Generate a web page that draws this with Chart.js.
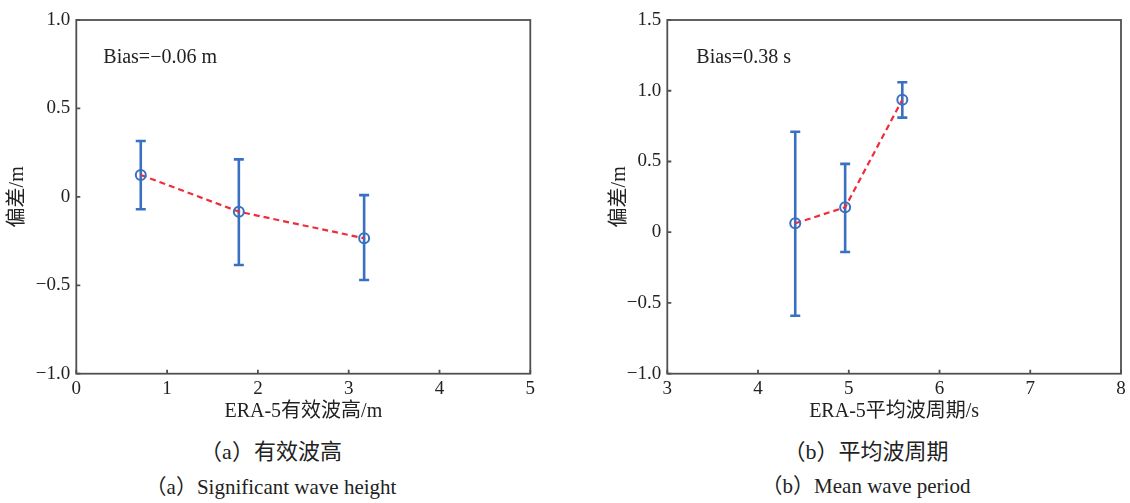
<!DOCTYPE html>
<html>
<head>
<meta charset="utf-8">
<script src="https://cdn.jsdelivr.net/npm/chart.js@4/dist/chart.umd.min.js"></script>
<style>
  html, body { margin: 0; padding: 0; background: #fff; }
  body { width: 1130px; height: 503px; position: relative; overflow: hidden; }
  canvas { position: absolute; top: 0; }
  #chartHs { left: 0; }
  #chartTm { left: 565px; }
  .caption {
    position: absolute; transform: translateX(-50%); white-space: nowrap;
    font-family: 'Liberation Serif', 'Noto Sans CJK SC', serif; color: #222;
    line-height: 26px;
  }
  .zh { font-size: 22px; }
  .en { font-size: 21px; }
</style>
</head>
<body>
<canvas id="chartHs" width="565" height="430"></canvas>
<canvas id="chartTm" width="565" height="430"></canvas>
<div class="caption zh" style="left:271px; top:439px;">（a）有效波高</div>
<div class="caption en" style="left:271px; top:474px;">（a）Significant wave height</div>
<div class="caption zh" style="left:866px; top:439px;">（b）平均波周期</div>
<div class="caption en" style="left:866px; top:473px;">（b）Mean wave period</div>
<script>
// (a) significant wave height: bin centres, mean bias and bias spread
const hsX = [0.71, 1.79, 3.17];
const hsBias = [0.124, -0.084, -0.234];
const hsUpper = [0.316, 0.212, 0.01];
const hsLower = [-0.07, -0.385, -0.47];
const hsXTicks = [0, 1, 2, 3, 4, 5];
const hsYTicks = [-1.0, -0.5, 0, 0.5, 1.0];

// (b) mean wave period
const tmX = [4.41, 4.96, 5.59];
const tmBias = [0.063, 0.176, 0.937];
const tmUpper = [0.71, 0.483, 1.06];
const tmLower = [-0.59, -0.14, 0.81];
const tmXTicks = [3, 4, 5, 6, 7, 8];
const tmYTicks = [-1.0, -0.5, 0, 0.5, 1.0, 1.5];

const BLUE = '#3a70c2';
const RED = '#f22b3a';
const AXIS = '#505050';
const TEXT = '#222222';
const FONT = "'Liberation Serif', 'Noto Sans CJK SC', serif";

Chart.defaults.font.family = FONT;
Chart.defaults.color = TEXT;

// box around the plot area plus short inward tick marks
const frameAndTicks = {
  id: 'frameAndTicks',
  afterDraw(chart) {
    const { ctx, chartArea: a, scales: { x, y } } = chart;
    ctx.save();
    ctx.strokeStyle = AXIS;
    ctx.lineWidth = 1.8;
    ctx.strokeRect(a.left, a.top, a.right - a.left, a.bottom - a.top);
    ctx.beginPath();
    x.ticks.forEach(t => {
      const px = x.getPixelForValue(t.value);
      ctx.moveTo(px, a.bottom);
      ctx.lineTo(px, a.bottom - 4);
    });
    y.ticks.forEach(t => {
      const py = y.getPixelForValue(t.value);
      ctx.moveTo(a.left, py);
      ctx.lineTo(a.left + 4, py);
    });
    ctx.stroke();
    ctx.restore();
  }
};

// vertical error bars with caps, drawn under the markers
const errorBars = {
  id: 'errorBars',
  beforeDatasetsDraw(chart, args, opts) {
    if (!opts || !opts.xs) return;
    const { ctx, scales: { x, y } } = chart;
    ctx.save();
    ctx.strokeStyle = opts.color;
    ctx.lineWidth = 2.6;
    opts.xs.forEach((xv, i) => {
      const px = x.getPixelForValue(xv);
      const top = y.getPixelForValue(opts.upper[i]);
      const bot = y.getPixelForValue(opts.lower[i]);
      ctx.beginPath();
      ctx.moveTo(px, top); ctx.lineTo(px, bot);
      ctx.moveTo(px - 5, top); ctx.lineTo(px + 5, top);
      ctx.moveTo(px - 5, bot); ctx.lineTo(px + 5, bot);
      ctx.stroke();
    });
    ctx.restore();
  }
};

// overall bias annotation in the upper-left corner
const biasNote = {
  id: 'biasNote',
  afterDraw(chart, args, opts) {
    if (!opts || !opts.text) return;
    const { ctx, chartArea: a } = chart;
    ctx.save();
    ctx.font = '20px ' + FONT;
    ctx.fillStyle = TEXT;
    ctx.textBaseline = 'middle';
    ctx.textAlign = 'left';
    ctx.fillText(opts.text, a.left + opts.dx, a.top + 38);
    ctx.restore();
  }
};

Chart.register(frameAndTicks, errorBars, biasNote);

function fmtY(v) {
  if (Math.abs(v) < 1e-9) return '0';
  return v.toFixed(1).replace('-', '\u2212');
}

function makeChart(id, cfg) {
  const points = cfg.xs.map((xv, i) => ({ x: xv, y: cfg.bias[i] }));
  return new Chart(document.getElementById(id), {
    type: 'scatter',
    data: {
      datasets: [{
        data: points,
        showLine: true,
        borderColor: RED,
        borderWidth: 2.2,
        borderDash: [6, 4],
        pointRadius: 5,
        pointHoverRadius: 5,
        pointBorderWidth: 2,
        pointBorderColor: BLUE,
        pointBackgroundColor: 'rgba(0,0,0,0)'
      }]
    },
    options: {
      responsive: false,
      animation: false,
      events: [],
      layout: { padding: { left: cfg.padLeft, right: cfg.padRight, top: 20, bottom: 0 } },
      plugins: {
        legend: { display: false },
        tooltip: { enabled: false },
        errorBars: { xs: cfg.xs, upper: cfg.upper, lower: cfg.lower, color: BLUE },
        biasNote: { text: cfg.note, dx: cfg.noteDx }
      },
      scales: {
        x: {
          type: 'linear',
          min: cfg.xTicks[0],
          max: cfg.xTicks[cfg.xTicks.length - 1],
          afterBuildTicks: s => { s.ticks = cfg.xTicks.map(v => ({ value: v })); },
          ticks: { font: { size: 19 }, color: TEXT, padding: 4, maxRotation: 0, callback: v => String(v) },
          grid: { display: false, drawTicks: false },
          border: { display: false },
          title: { display: true, text: cfg.xTitle, font: { size: 20 }, color: TEXT, padding: { top: 0, bottom: 6 } },
          afterFit: s => { s.height = 56.3; }
        },
        y: {
          type: 'linear',
          min: cfg.yTicks[0],
          max: cfg.yTicks[cfg.yTicks.length - 1],
          afterBuildTicks: s => { s.ticks = cfg.yTicks.map(v => ({ value: v })); },
          ticks: { font: { size: 19 }, color: TEXT, padding: 6, callback: v => fmtY(v) },
          grid: { display: false, drawTicks: false },
          border: { display: false },
          title: { display: true, text: '偏差/m', font: { size: 20 }, color: TEXT, padding: { top: cfg.yTitlePad, bottom: 0 } },
          afterFit: s => { s.width = cfg.yWidth; }
        }
      }
    }
  });
}

makeChart('chartHs', {
  xs: hsX, bias: hsBias, upper: hsUpper, lower: hsLower,
  xTicks: hsXTicks, yTicks: hsYTicks,
  xTitle: 'ERA-5有效波高/m', note: 'Bias=\u22120.06 m', noteDx: 27,
  padLeft: 0, padRight: 34.7, yWidth: 76.3, yTitlePad: 6
});

makeChart('chartTm', {
  xs: tmX, bias: tmBias, upper: tmUpper, lower: tmLower,
  xTicks: tmXTicks, yTicks: tmYTicks,
  xTitle: 'ERA-5平均波周期/s', note: 'Bias=0.38 s', noteDx: 29,
  padLeft: 30, padRight: 9, yWidth: 72.3, yTitlePad: 13
});
</script>
</body>
</html>
